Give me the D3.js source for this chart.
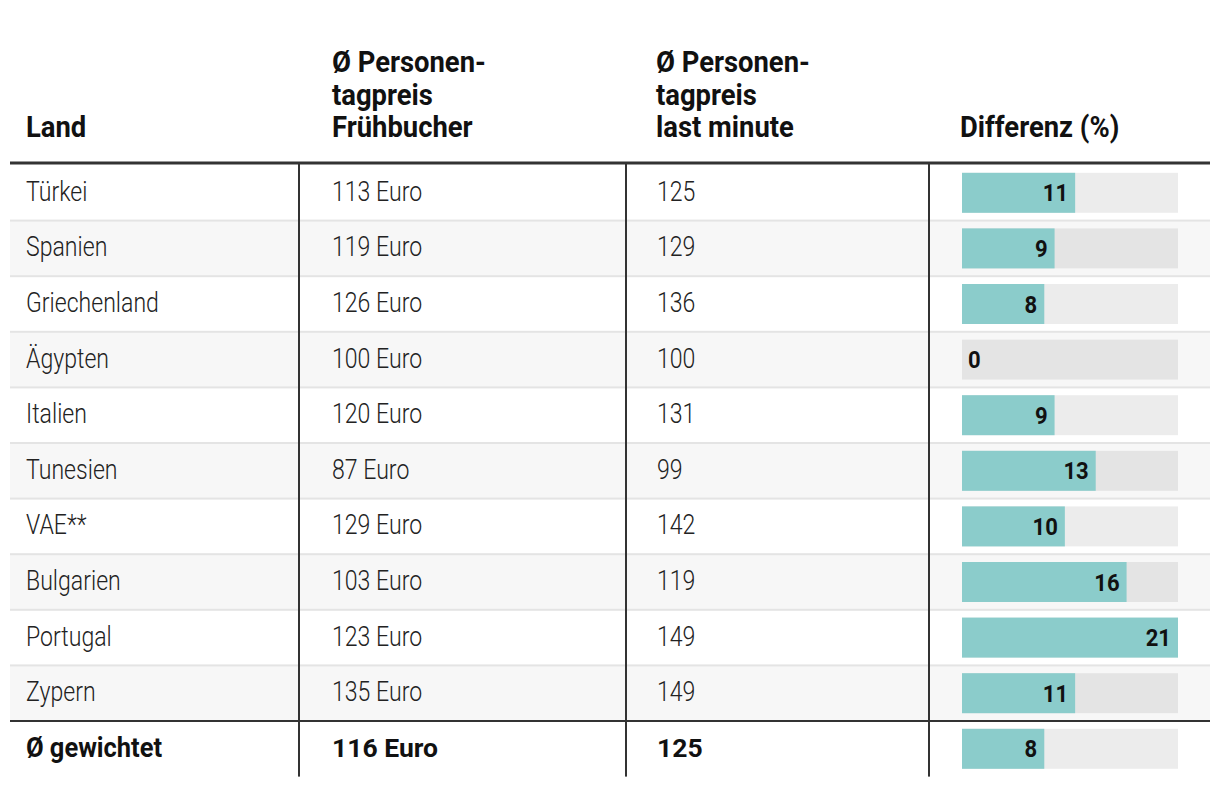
<!DOCTYPE html>
<html><head><meta charset="utf-8">
<script src="https://cdn.jsdelivr.net/npm/d3@7"></script>
<style>
html,body{margin:0;padding:0;background:#fff;}
svg{display:block;}
</style></head>
<body>
<svg id="chart" width="1220" height="788"></svg>
<script>
// ---- data ----
const countries = ["Türkei","Spanien","Griechenland","Ägypten","Italien","Tunesien","VAE**","Bulgarien","Portugal","Zypern"];
const earlyBird = [113,119,126,100,120,87,129,103,123,135];
const lastMinute = [125,129,136,100,131,99,142,119,149,149];
const diffPct = [11,9,8,0,9,13,10,16,21,11];
const avgLabel = "Ø gewichtet";
const avgEarly = 116;
const avgLast = 125;
const avgDiff = 8;
const headers = [
  ["Land"],
  ["Ø Personen-","tagpreis","Frühbucher"],
  ["Ø Personen-","tagpreis","last minute"],
  ["Differenz (%)"]
];
const diffMax = 21;

// ---- layout ----
const W = 1220, H = 788;
const tableLeft = 10, tableRight = 1210;
const colText = [26, 332, 657, 962];
const headX = [26, 332, 656, 960];
const colLines = [299, 626, 929];
const barLeft = 962, barRight = 1178, barH = 40;
const headerBaselines = [72, 104.5, 137];
const FONT = "Roboto, 'Noto Sans', sans-serif";
const bodyScale = 0.855, headScale = 0.945;

const svg = d3.select("#chart");

const rows = countries.map((c,i)=>({name:c, early:earlyBird[i]+" Euro", last:String(lastMinute[i]), diff:diffPct[i], avg:false}));
rows.push({name:avgLabel, early:avgEarly+" Euro", last:String(avgLast), diff:avgDiff, avg:true});

const y = d3.scaleBand().domain(d3.range(rows.length)).range([165, 165 + 55.6*rows.length]).paddingInner(0).paddingOuter(0);
const x = d3.scaleLinear().domain([0, diffMax]).range([barLeft, barRight]);

// row backgrounds
svg.append("g").selectAll("rect").data(rows).join("rect")
  .attr("x", tableLeft).attr("width", tableRight - tableLeft)
  .attr("y", (d,i)=>y(i)).attr("height", y.bandwidth())
  .attr("fill", (d,i)=> (!d.avg && i%2===1) ? "#f7f7f7" : "#ffffff");

// row separators
svg.append("g").selectAll("rect").data(rows.slice(0, rows.length-2)).join("rect")
  .attr("x", tableLeft).attr("width", tableRight - tableLeft)
  .attr("y", (d,i)=>y(i)+y.bandwidth()-1).attr("height", 2)
  .attr("fill", "#e4e4e4");

// dark line above average row
svg.append("rect").attr("x", tableLeft).attr("width", tableRight-tableLeft)
  .attr("y", y(rows.length-1)-1).attr("height", 2).attr("fill", "#333");

// header thick line
svg.append("rect").attr("x", tableLeft).attr("width", tableRight-tableLeft)
  .attr("y", 161.5).attr("height", 3).attr("fill", "#333");

// vertical column lines
svg.append("g").selectAll("rect").data(colLines).join("rect")
  .attr("x", d=>d-1).attr("width", 2)
  .attr("y", 164).attr("height", y(rows.length-1)+y.bandwidth()-164)
  .attr("fill", "#333");

// header text
const hg = svg.append("g");
headers.forEach((lines, ci)=>{
  const offset = headerBaselines.length - lines.length;
  lines.forEach((t, li)=>{
    hg.append("text")
      .attr("transform", `translate(${headX[ci]},${headerBaselines[offset+li]}) scale(${headScale},1)`)
      .attr("font-family", FONT).attr("font-weight", 700).attr("font-size", 29)
      .attr("fill", "#111").text(t);
  });
});

// body text
const cg = svg.append("g");
rows.forEach((r,i)=>{
  const cy = y(i) + y.bandwidth()/2;
  [r.name, r.early, r.last].forEach((t,ci)=>{
    const sc = r.avg ? (ci===0 ? 0.91 : 1) : bodyScale;
    cg.append("text")
      .attr("transform", `translate(${colText[ci]},${cy+8}) scale(${sc},1)`)
      .attr("font-family", FONT).attr("font-weight", r.avg?700:300)
      .attr("font-size", r.avg ? (ci===0 ? 28 : 26.5) : 27)
      .attr("fill", r.avg?"#111":"#222").text(t);
  });
});

// bars
const bg = svg.append("g");
bg.selectAll("rect.track").data(rows).join("rect").attr("class","track")
  .attr("x", x(0)).attr("width", x(diffMax)-x(0))
  .attr("y", (d,i)=>y(i)+y.bandwidth()/2-barH/2).attr("height", barH)
  .attr("fill", "rgba(0,0,0,0.075)");
bg.selectAll("rect.bar").data(rows).join("rect").attr("class","bar")
  .attr("x", x(0)).attr("width", d=>x(d.diff)-x(0))
  .attr("y", (d,i)=>y(i)+y.bandwidth()/2-barH/2).attr("height", barH)
  .attr("fill", "#8bcccb");
bg.selectAll("text").data(rows).join("text")
  .attr("transform", (d,i)=>{
    const cy = y(i)+y.bandwidth()/2 + 8.5;
    return d.diff>0 ? `translate(${x(d.diff)-7},${cy}) scale(0.92,1)` : `translate(${x(0)+6},${cy}) scale(0.92,1)`;
  })
  .attr("text-anchor", d=>d.diff>0?"end":"start")
  .attr("font-family", FONT).attr("font-weight", 700).attr("font-size", 24)
  .attr("fill", "#111").text(d=>d.diff);
</script>
</body></html>
